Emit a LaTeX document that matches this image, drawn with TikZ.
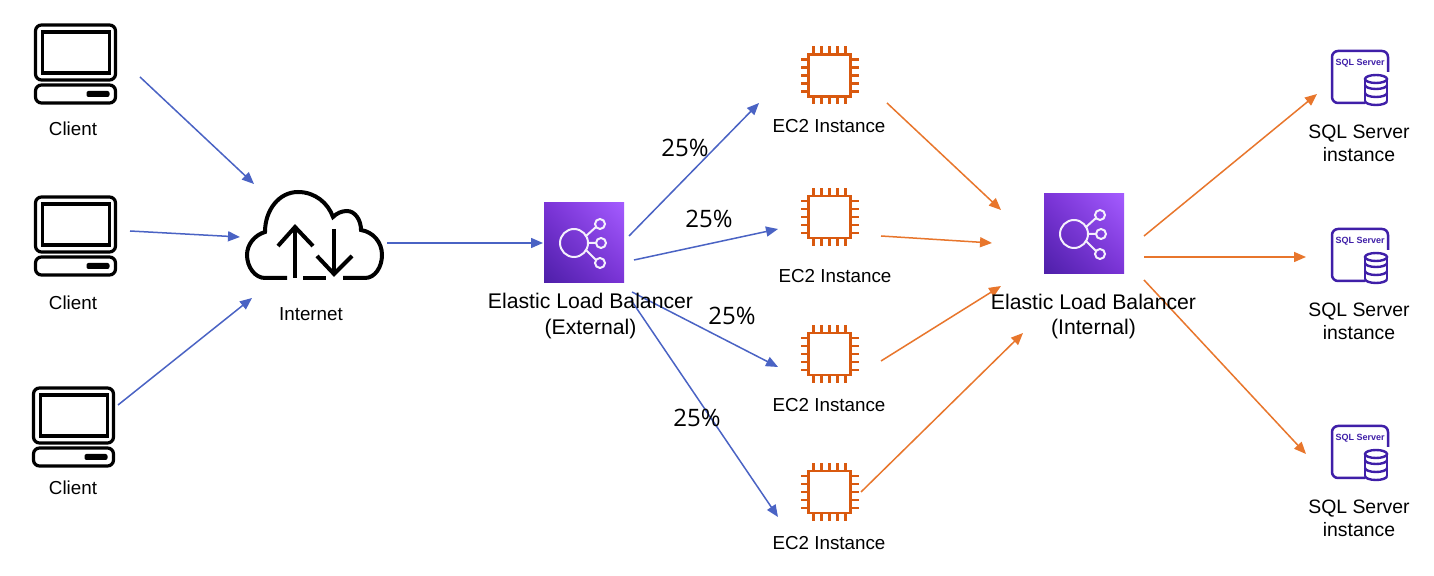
\documentclass[tikz,border=0pt]{standalone}
\usepackage{fontspec}
\setmainfont{Liberation Sans}
\newfontfamily\pctfont{Open Sans}
\usetikzlibrary{arrows.meta,shadings}
\definecolor{flowblue}{HTML}{4A63C4}
\definecolor{floworange}{HTML}{E8762C}
\definecolor{chiporange}{HTML}{D9590F}
\definecolor{sqlpurple}{HTML}{3F1FA8}
\definecolor{elbdark}{HTML}{4D1FA8}
\definecolor{elbmid}{HTML}{7A33D6}
\definecolor{elblight}{HTML}{A45CFF}
\tikzset{
  x=0.5pt,y=-0.5pt,
  bluearrow/.style={draw=flowblue,line width=0.75pt,-{Triangle[length=6pt,width=5pt]}},
  orangearrow/.style={draw=floworange,line width=0.75pt,-{Triangle[length=6pt,width=5pt]}},
  lbl/.style={inner sep=0pt,align=center,font=\fontsize{9.4}{11.6}\selectfont},
  elblbl/.style={inner sep=0pt,align=center,font=\fontsize{10.6}{12.8}\selectfont},
  sqllbl/.style={inner sep=0pt,align=center,font=\fontsize{9.7}{11.6}\selectfont},
  pct/.style={inner sep=0pt,font=\fontsize{12}{14}\selectfont\pctfont},
  client/.pic={
    \draw[line width=1.6pt,rounded corners=3pt] (-40,-39) rectangle (40,16);
    \draw[line width=1.6pt] (-33,-32) rectangle (34,9);
    \draw[line width=1.6pt,rounded corners=3pt] (-40,21) rectangle (40,39);
    \fill[rounded corners=1pt] (11,27) rectangle (34,33);
  },
  cloud/.pic={
    \draw[line width=2pt,line cap=butt]
      (-28,44) -- (-50,44)
      .. controls (-60,44) and (-68,33) .. (-68,21)
      .. controls (-68,10) and (-60,1) .. (-50,-2)
      .. controls (-50,-24) and (-36,-42) .. (-17,-42)
      .. controls (0,-42) and (13,-31) .. (18,-17)
      .. controls (22,-21) and (27,-23) .. (32,-23)
      .. controls (40,-23) and (46,-14) .. (46,-4)
      .. controls (58,-2) and (67,8) .. (67,21)
      .. controls (67,33) and (60,44) .. (50,44) -- (28,44);
    \draw[line width=2pt] (-12,44) -- (11,44);
    \draw[line width=2pt] (-20,44) -- (-20,-6);
    \draw[line width=2pt] (-37,12) -- (-20,-7) -- (-2,12);
    \draw[line width=2pt] (19,-5) -- (19,40);
    \draw[line width=2pt] (2,22) -- (19,40) -- (37,22);
  },
  elb/.pic={
    \shade[lower left=elbdark,upper right=elblight,upper left=elbmid,lower right=elbmid]
      (-40,-40) rectangle (40,40);
    \draw[white!92!elbmid,line width=1pt]
      (-10,0) circle[radius=14]
      (16,-19) circle[radius=5]
      (17,0) circle[radius=5]
      (16,20) circle[radius=5]
      (2,-7) -- (12,-16)
      (4,0) -- (12,0)
      (2,7) -- (12,17);
  },
  chip/.pic={
    \draw[chiporange,line width=1.25pt] (-21,-21) rectangle (21,21);
    \foreach \k in {-16,-8,0,8,16}{
      \draw[chiporange,line width=1.2pt] (\k,-21) -- (\k,-29) (\k,21) -- (\k,29)
        (-21,\k) -- (-29,\k) (21,\k) -- (29,\k);
    }
  },
  sqlicon/.pic={
    \draw[sqlpurple,line width=1.25pt,rounded corners=3pt]
      (28,-6) -- (28,-27) -- (-28,-27) -- (-28,25) -- (5,25);
    \node[sqlpurple,inner sep=0pt,font=\fontsize{4.5}{5}\bfseries\selectfont] at (0,-15) {SQL Server};
    \begin{scope}[sqlpurple,line width=1.2pt]
      \draw (16,1) ellipse[x radius=11,y radius=4];
      \draw (5,1) -- (5,23) (27,1) -- (27,23);
      \draw (5,7) arc[start angle=180,end angle=360,x radius=11,y radius=-4];
      \draw (5,15) arc[start angle=180,end angle=360,x radius=11,y radius=-4];
      \draw (5,23) arc[start angle=180,end angle=360,x radius=11,y radius=-4];
    \end{scope}
  }
}
\begin{document}
\begin{tikzpicture}
\useasboundingbox[fill=white] (0,0) rectangle (1434,576);
% icons
\pic at (75.5,64) {client};
\pic at (75.5,236) {client};
\pic at (73.5,427) {client};
\pic at (315,234) {cloud};
\pic at (584,243) {elb};
\pic at (1084,234) {elb};
\pic at (829.5,75.5) {chip};
\pic at (829.5,217) {chip};
\pic at (829.5,354) {chip};
\pic at (829.5,492) {chip};
\pic at (1360,78) {sqlicon};
\pic at (1360,256) {sqlicon};
\pic at (1360,453) {sqlicon};
% connector ends
\coordinate (a1s) at (140,77);   \coordinate (a1e) at (254,184);
\coordinate (a2s) at (130,231);  \coordinate (a2e) at (240,237);
\coordinate (a3s) at (118,405);  \coordinate (a3e) at (252,298);
\coordinate (a4s) at (387,243);  \coordinate (a4e) at (543,243);
\coordinate (b1s) at (629,236);  \coordinate (b1e) at (759,103);
\coordinate (b2s) at (634,260);  \coordinate (b2e) at (778,229);
\coordinate (b3s) at (632,292);  \coordinate (b3e) at (778,367);
\coordinate (b4s) at (631,300);  \coordinate (b4e) at (778,517);
\coordinate (c1s) at (887,103);  \coordinate (c1e) at (1001,210);
\coordinate (c2s) at (881,236);  \coordinate (c2e) at (992,243);
\coordinate (c3s) at (881,361);  \coordinate (c3e) at (1001,286);
\coordinate (c4s) at (861,492);  \coordinate (c4e) at (1023,333);
\coordinate (d1s) at (1144,236); \coordinate (d1e) at (1317,94);
\coordinate (d2s) at (1144,257); \coordinate (d2e) at (1306,257);
\coordinate (d3s) at (1144,280); \coordinate (d3e) at (1306,454);
% connectors
\foreach \n in {a1,a2,a3,a4,b1,b2,b3,b4}{\draw[bluearrow] (\n s) -- (\n e);}
\foreach \n in {c1,c2,c3,c4,d1,d2,d3}{\draw[orangearrow] (\n s) -- (\n e);}
% labels
\node[lbl] (lc1) at (73,129) {Client};
\node[lbl] (lc2) at (73,303) {Client};
\node[lbl] (lc3) at (73,488) {Client};
\node[lbl] (lnet) at (311,314) {Internet};
\node[elblbl] (lelbx) at (590.5,316) {Elastic Load Balancer\\(External)};
\node[elblbl] (lelbi) at (1093.5,316.5) {Elastic Load Balancer\\(Internal)};
\node[lbl] (le1) at (829,126) {EC2 Instance};
\node[lbl] (le2) at (835,276) {EC2 Instance};
\node[lbl] (le3) at (829,405) {EC2 Instance};
\node[lbl] (le4) at (829,543) {EC2 Instance};
\node[sqllbl] (ls1) at (1359,143.5) {SQL Server\\instance};
\node[sqllbl] (ls2) at (1359,321.5) {SQL Server\\instance};
\node[sqllbl] (ls3) at (1359,518.5) {SQL Server\\instance};
\node[pct] (p1) at (685,148) {25\%};
\node[pct] (p2) at (709,219) {25\%};
\node[pct] (p3) at (732,316) {25\%};
\node[pct] (p4) at (697,418) {25\%};
\end{tikzpicture}
\end{document}
